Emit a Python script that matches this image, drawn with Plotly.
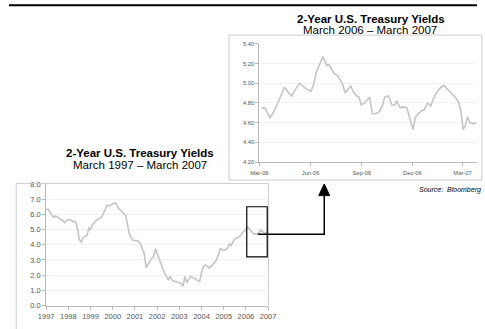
import plotly.graph_objects as go
import pandas as pd

W, H = 485, 329

# ---------------- data ----------------
long_values = [
    6.30, 6.35, 6.15, 5.97, 5.80, 5.90, 5.85, 5.75, 5.65, 5.60,            # 1997 Mar-Dec
    5.45, 5.60, 5.65, 5.60, 5.55, 5.55, 5.50, 5.00, 4.30, 4.17, 4.49, 4.55,  # 1998
    4.60, 5.10, 5.00, 5.30, 5.45, 5.60, 5.65, 5.76, 5.80, 6.05, 6.30, 6.60,  # 1999
    6.55, 6.60, 6.70, 6.75, 6.70, 6.40, 6.30, 6.20, 6.05, 5.90, 5.36, 4.70,  # 2000
    4.45, 4.30, 4.28, 4.27, 4.20, 4.06, 3.70, 3.42, 2.50, 2.75, 2.90, 3.10,  # 2001
    3.20, 3.74, 3.42, 3.10, 2.78, 2.45, 2.14, 1.90, 1.71, 1.92, 1.67, 1.62,  # 2002
    1.60, 1.55, 1.50, 1.45, 1.28, 1.92, 1.50, 1.75, 1.92, 1.85, 1.82, 1.70,  # 2003
    1.65, 1.60, 2.20, 2.56, 2.67, 2.60, 2.46, 2.55, 2.67, 2.85, 3.00, 3.30,  # 2004
    3.74, 3.70, 3.63, 3.68, 3.74, 4.06, 3.95, 4.20, 4.38, 4.45, 4.49, 4.60,  # 2005
    4.80, 4.90, 5.00, 5.17, 5.00, 4.85, 4.74, 4.70, 4.70, 4.80, 4.96, 4.85,  # 2006
    4.80, 4.75, 4.70,                                                        # 2007 Jan-Mar
]
long_dates = pd.date_range("1997-03-01", periods=len(long_values), freq="MS")
long_tickvals = [f"{y}-03-01" for y in range(1997, 2008)]
long_ticktext = [str(y) for y in range(1997, 2008)]

short_dates = [
    "2006-03-05", "2006-03-11", "2006-03-20", "2006-03-25", "2006-04-03", "2006-04-09",
    "2006-04-15", "2006-04-20", "2006-04-28", "2006-05-05", "2006-05-12", "2006-05-18",
    "2006-05-25", "2006-06-02", "2006-06-07", "2006-06-11", "2006-06-17", "2006-06-23",
    "2006-06-27", "2006-06-30", "2006-07-04", "2006-07-08", "2006-07-13", "2006-07-19",
    "2006-07-28", "2006-08-02", "2006-08-08", "2006-08-12", "2006-08-17", "2006-08-23",
    "2006-08-27", "2006-08-31", "2006-09-06", "2006-09-15", "2006-09-20", "2006-09-26",
    "2006-10-02", "2006-10-08", "2006-10-12", "2006-10-19", "2006-10-25", "2006-10-30",
    "2006-11-03", "2006-11-09", "2006-11-15", "2006-11-21", "2006-11-26", "2006-12-02",
    "2006-12-06", "2006-12-11", "2006-12-17", "2006-12-22", "2006-12-28", "2007-01-03",
    "2007-01-08", "2007-01-14", "2007-01-21", "2007-01-27", "2007-02-02", "2007-02-09",
    "2007-02-17", "2007-02-22", "2007-02-26", "2007-03-02", "2007-03-06", "2007-03-10",
    "2007-03-14", "2007-03-20", "2007-03-26",
]
short_values = [
    4.75, 4.75, 4.65, 4.69, 4.80, 4.88,
    4.96, 4.92, 4.87, 4.94, 5.00, 4.97,
    4.94, 4.92, 5.00, 5.11, 5.20, 5.27,
    5.22, 5.18, 5.19, 5.15, 5.10, 5.08,
    5.00, 4.90, 4.95, 4.97, 4.91, 4.87,
    4.86, 4.78, 4.80, 4.86, 4.69, 4.69,
    4.71, 4.77, 4.86, 4.87, 4.78, 4.78,
    4.82, 4.75, 4.76, 4.75, 4.65, 4.53,
    4.65, 4.69, 4.72, 4.73, 4.80, 4.77,
    4.85, 4.91, 4.96, 4.98, 4.94, 4.90,
    4.85, 4.81, 4.72, 4.53, 4.57, 4.66,
    4.60, 4.59, 4.60,
]
short_tickvals = ["2006-03-01", "2006-06-01", "2006-09-01", "2006-12-01", "2007-03-01"]
short_ticktext = ["Mar-06", "Jun-06", "Sep-06", "Dec-06", "Mar-07"]
short_yticks = [4.2, 4.4, 4.6, 4.8, 5.0, 5.2, 5.4]
long_yticks = [0, 1, 2, 3, 4, 5, 6, 7, 8]

# ---------------- helpers (pixel -> paper) ----------------
def fx(x):
    return x / W

def fy(y):
    return 1 - y / H

FONT = "Liberation Sans, Arial, sans-serif"
LINE = "#c4c4c4"
AX = "#b8b8b8"
GRID = "#f2f2f2"
TXT = "#555555"
FRAME = "#cccccc"

fig = go.Figure()
fig.add_trace(go.Scatter(x=long_dates, y=long_values, mode="lines",
                         line=dict(color=LINE, width=1.6), xaxis="x", yaxis="y",
                         hoverinfo="skip"))
fig.add_trace(go.Scatter(x=short_dates, y=short_values, mode="lines",
                         line=dict(color=LINE, width=1.6), xaxis="x2", yaxis="y2",
                         hoverinfo="skip"))

axis_common = dict(showline=True, linecolor=AX, linewidth=1, ticks="outside",
                   ticklen=3, tickcolor=AX, zeroline=False, fixedrange=True)

fig.update_layout(
    width=W, height=H, autosize=False,
    margin=dict(l=0, r=0, t=0, b=0),
    paper_bgcolor="white", plot_bgcolor="white",
    showlegend=False,
    font=dict(family=FONT, color=TXT),
    xaxis=dict(domain=[fx(38.5), fx(268.5)], type="date",
               range=["1997-03-01", "2007-03-01"],
               tickmode="array", tickvals=long_tickvals, ticktext=long_ticktext,
               tickfont=dict(size=7.5, color=TXT), showgrid=False,
               anchor="y", **axis_common),
    yaxis=dict(domain=[fy(310), fy(185)], range=[0, 8],
               tickmode="array", tickvals=long_yticks,
               tickformat=".1f", ticksuffix="%",
               tickfont=dict(size=7.5, color=TXT),
               showgrid=True, gridcolor=GRID, gridwidth=1,
               anchor="x", **axis_common),
    xaxis2=dict(domain=[fx(259.5), 1.0], type="date",
                range=["2006-03-01", "2007-03-27"],
                tickmode="array", tickvals=short_tickvals, ticktext=short_ticktext,
                tickfont=dict(size=5.8, color=TXT), showgrid=False,
                ticklabelstandoff=2,
                anchor="y2", **axis_common),
    yaxis2=dict(domain=[fy(162.5), fy(41)], range=[4.2, 5.4],
                tickmode="array", tickvals=short_yticks,
                tickformat=".2f", ticksuffix="%",
                tickfont=dict(size=5.8, color=TXT),
                showgrid=True, gridcolor=GRID, gridwidth=1,
                anchor="x2", **axis_common),
)

shapes = [
    # top black rule
    dict(type="line", xref="paper", yref="paper", x0=0, x1=1, y0=fy(1.3), y1=fy(1.3),
         line=dict(color="black", width=2)),
    # right panel frame
    dict(type="rect", xref="paper", yref="paper", x0=fx(228), x1=fx(490), y0=fy(181), y1=fy(32),
         line=dict(color=FRAME, width=1)),
    # left panel frame: left edge, top edge, plot-area right edge
    dict(type="line", xref="paper", yref="paper", x0=fx(7.5), x1=fx(7.5), y0=fy(184.5), y1=fy(335),
         line=dict(color=FRAME, width=1)),
    dict(type="line", xref="paper", yref="paper", x0=fx(7.5), x1=fx(269), y0=fy(184.5), y1=fy(184.5),
         line=dict(color=FRAME, width=1)),
    dict(type="line", xref="paper", yref="paper", x0=fx(269), x1=fx(269), y0=fy(184.5), y1=fy(310),
         line=dict(color=FRAME, width=1)),
    # highlight rectangle on the long chart
    dict(type="rect", xref="x", yref="y", x0="2006-03-15", x1="2007-02-15", y0=3.2, y1=6.5,
         line=dict(color="black", width=1.2)),
    # connector
    dict(type="path", xref="paper", yref="paper",
         path=f"M {fx(258)} {fy(236.7)} L {fx(326.7)} {fy(236.7)} L {fx(326.7)} {fy(196)}",
         line=dict(color="black", width=1.5)),
    # arrow head
    dict(type="path", xref="paper", yref="paper",
         path=f"M {fx(321)} {fy(197)} L {fx(326.7)} {fy(185)} L {fx(332.4)} {fy(197)} Z",
         fillcolor="black", line=dict(color="black", width=1)),
]
fig.update_layout(shapes=shapes)

ann = [
    dict(text="<b>2-Year U.S. Treasury Yields</b>", x=fx(375), y=fy(15), xref="paper", yref="paper",
         showarrow=False, xanchor="center", yanchor="middle",
         font=dict(size=11.5, color="black", family=FONT)),
    dict(text="March 2006 – March 2007", x=fx(374), y=fy(27), xref="paper", yref="paper",
         showarrow=False, xanchor="center", yanchor="middle",
         font=dict(size=11.5, color="black", family=FONT)),
    dict(text="<b>2-Year U.S. Treasury Yields</b>", x=fx(136), y=fy(153.5), xref="paper", yref="paper",
         showarrow=False, xanchor="center", yanchor="middle",
         font=dict(size=11.5, color="black", family=FONT)),
    dict(text="March 1997 – March 2007", x=fx(136), y=fy(165.5), xref="paper", yref="paper",
         showarrow=False, xanchor="center", yanchor="middle",
         font=dict(size=11.5, color="black", family=FONT)),
    dict(text="<i>Source:&nbsp; Bloomberg</i>", x=fx(423), y=fy(191), xref="paper", yref="paper",
         showarrow=False, xanchor="left", yanchor="middle",
         font=dict(size=7, color="black", family=FONT)),
]
fig.update_layout(annotations=ann)

fig.write_html("out.html")
